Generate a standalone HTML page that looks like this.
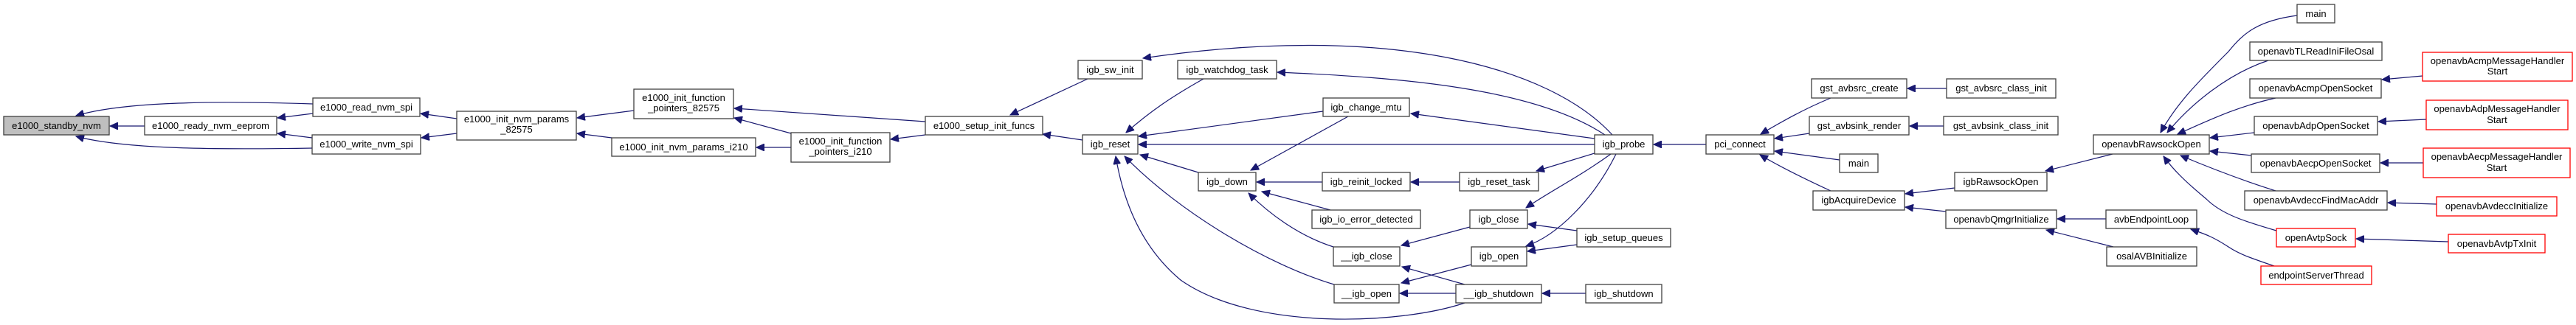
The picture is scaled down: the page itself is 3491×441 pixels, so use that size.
<!DOCTYPE html>
<html><head><meta charset="utf-8"><style>
html,body{margin:0;padding:0;background:#fff;}
svg{display:block;}
text{font-family:"Liberation Sans",sans-serif;font-size:13px;fill:#000;text-anchor:middle;}
.e{fill:none;stroke:#191970;stroke-width:1.2;marker-end:url(#a);}
.n{fill:#fff;stroke:#404040;stroke-width:1.3;}
.r{fill:#fff;stroke:#ff0000;stroke-width:1.3;}
.g{fill:#bfbfbf;stroke:#404040;stroke-width:1.3;}
</style></head><body>
<svg width="3491" height="441" viewBox="0 0 3491 441" xmlns="http://www.w3.org/2000/svg">
<defs><marker id="a" markerWidth="12" markerHeight="10" refX="11" refY="5" orient="auto" markerUnits="userSpaceOnUse"><path d="M0,0 L11,5 L0,10 Z" fill="#191970" stroke="#191970"/></marker></defs>
<g>
<path class="e" d="M424,141 C300,137 170,137 103,157"/>
<path class="e" d="M196,171 L149,171"/>
<path class="e" d="M423,201 C300,203 170,203 103,185"/>
<path class="e" d="M424,154 L376,160"/>
<path class="e" d="M423,187 L376,181"/>
<path class="e" d="M619,161 L570,154"/>
<path class="e" d="M619,181 L571,187"/>
<path class="e" d="M859,150 L782,160"/>
<path class="e" d="M829,187 L782,181"/>
<path class="e" d="M1072,200 L1025,200"/>
<path class="e" d="M1072,181 L995,160"/>
<path class="e" d="M1254,165 L995,147"/>
<path class="e" d="M1254,183 L1207,189"/>
<path class="e" d="M1474,107 L1369,156"/>
<path class="e" d="M1467,190 L1413,182"/>
<path class="e" d="M2185,183 C2100,90 1880,30 1549,79"/>
<path class="e" d="M2175,183 C2080,120 1900,105 1731,98"/>
<path class="e" d="M1631,107 C1590,130 1560,150 1526,180"/>
<path class="e" d="M2161,188 L1912,154"/>
<path class="e" d="M1793,151 L1543,185"/>
<path class="e" d="M2161,196 L1543,196"/>
<path class="e" d="M1624,234 L1545,210"/>
<path class="e" d="M1827,158 L1695,231"/>
<path class="e" d="M1792,247 L1703,247"/>
<path class="e" d="M1803,285 L1710,260"/>
<path class="e" d="M1807,335 C1760,320 1720,290 1692,262"/>
<path class="e" d="M1808,386 C1720,360 1600,290 1524,212"/>
<path class="e" d="M1985,411 C1900,440 1700,450 1600,380 C1540,330 1520,260 1512,212"/>
<path class="e" d="M1978,247 L1912,247"/>
<path class="e" d="M2161,208 L2082,232"/>
<path class="e" d="M1992,308 L1899,333"/>
<path class="e" d="M2183,209 C2140,240 2100,260 2068,282"/>
<path class="e" d="M2137,313 L2071,304"/>
<path class="e" d="M2137,332 L2070,341"/>
<path class="e" d="M2190,209 C2160,270 2110,320 2068,334"/>
<path class="e" d="M1985,386 L1900,362"/>
<path class="e" d="M1994,359 L1899,384"/>
<path class="e" d="M1973,398 L1897,398"/>
<path class="e" d="M2149,398 L2090,398"/>
<path class="e" d="M2312,196 L2241,196"/>
<path class="e" d="M2481,133 C2440,150 2410,168 2386,182"/>
<path class="e" d="M2452,181 L2405,188"/>
<path class="e" d="M2493,217 L2405,205"/>
<path class="e" d="M2481,259 C2440,240 2410,225 2385,210"/>
<path class="e" d="M2638,120 L2585,120"/>
<path class="e" d="M2634,171 L2588,171"/>
<path class="e" d="M2649,255 L2582,263"/>
<path class="e" d="M2637,287 L2582,281"/>
<path class="e" d="M2863,209 L2772,232"/>
<path class="e" d="M2854,297 L2788,297"/>
<path class="e" d="M2864,335 L2773,312"/>
<path class="e" d="M3113,21 C3060,28 3040,45 3020,70 C2980,110 2950,140 2928,180"/>
<path class="e" d="M3074,82 C3020,100 2970,140 2937,180"/>
<path class="e" d="M3084,133 C3030,145 2990,165 2951,182"/>
<path class="e" d="M3055,180 L2995,187"/>
<path class="e" d="M3051,211 L2995,205"/>
<path class="e" d="M3084,259 C3040,245 3000,230 2955,211"/>
<path class="e" d="M3085,313 C3040,300 3010,290 2990,270 C2960,245 2945,230 2932,212"/>
<path class="e" d="M3082,361 C3050,350 3035,345 3020,335 C3000,322 2990,318 2969,311"/>
<path class="e" d="M3283,103 L3228,108"/>
<path class="e" d="M3288,162 L3223,165"/>
<path class="e" d="M3284,221 L3226,221"/>
<path class="e" d="M3302,277 L3236,275"/>
<path class="e" d="M3318,328 L3193,324"/>
</g>
<g>
<rect class="g" x="5" y="158" width="143" height="25"/><text x="76.5" y="175">e1000_standby_nvm</text>
<rect class="n" x="196" y="158" width="179" height="25"/><text x="285.5" y="175">e1000_ready_nvm_eeprom</text>
<rect class="n" x="424" y="133" width="145" height="25"/><text x="496.5" y="150">e1000_read_nvm_spi</text>
<rect class="n" x="423" y="183" width="147" height="26"/><text x="496.5" y="200">e1000_write_nvm_spi</text>
<rect class="n" x="619" y="151" width="162" height="39"/><text x="700" y="166">e1000_init_nvm_params</text><text x="700" y="180">_82575</text>
<rect class="n" x="859" y="121" width="135" height="40"/><text x="926.5" y="137">e1000_init_function</text><text x="926.5" y="151">_pointers_82575</text>
<rect class="n" x="829" y="187" width="195" height="25"/><text x="926.5" y="204">e1000_init_nvm_params_i210</text>
<rect class="n" x="1072" y="180" width="134" height="40"/><text x="1139" y="196">e1000_init_function</text><text x="1139" y="210">_pointers_i210</text>
<rect class="n" x="1254" y="158" width="159" height="25"/><text x="1333.5" y="175">e1000_setup_init_funcs</text>
<rect class="n" x="1461" y="82" width="87" height="25"/><text x="1504.5" y="99">igb_sw_init</text>
<rect class="n" x="1596" y="82" width="134" height="25"/><text x="1663" y="99">igb_watchdog_task</text>
<rect class="n" x="1467" y="183" width="75" height="26"/><text x="1504.5" y="200">igb_reset</text>
<rect class="n" x="1793" y="133" width="117" height="25"/><text x="1851.5" y="150">igb_change_mtu</text>
<rect class="n" x="1624" y="234" width="78" height="25"/><text x="1663" y="251">igb_down</text>
<rect class="n" x="1792" y="234" width="119" height="25"/><text x="1851.5" y="251">igb_reinit_locked</text>
<rect class="n" x="1778" y="285" width="147" height="25"/><text x="1851.5" y="302">igb_io_error_detected</text>
<rect class="n" x="1807" y="335" width="90" height="26"/><text x="1852" y="352">__igb_close</text>
<rect class="n" x="1808" y="386" width="88" height="25"/><text x="1852" y="403">__igb_open</text>
<rect class="n" x="2161" y="183" width="79" height="26"/><text x="2200.5" y="200">igb_probe</text>
<rect class="n" x="1978" y="234" width="107" height="25"/><text x="2031.5" y="251">igb_reset_task</text>
<rect class="n" x="1992" y="285" width="78" height="25"/><text x="2031" y="302">igb_close</text>
<rect class="n" x="1994" y="335" width="75" height="26"/><text x="2031.5" y="352">igb_open</text>
<rect class="n" x="2137" y="310" width="127" height="25"/><text x="2200.5" y="327">igb_setup_queues</text>
<rect class="n" x="1973" y="386" width="116" height="25"/><text x="2031" y="403">__igb_shutdown</text>
<rect class="n" x="2149" y="386" width="103" height="25"/><text x="2200.5" y="403">igb_shutdown</text>
<rect class="n" x="2312" y="183" width="92" height="26"/><text x="2358" y="200">pci_connect</text>
<rect class="n" x="2455" y="107" width="129" height="26"/><text x="2519.5" y="124">gst_avbsrc_create</text>
<rect class="n" x="2452" y="158" width="135" height="25"/><text x="2519.5" y="175">gst_avbsink_render</text>
<rect class="n" x="2493" y="209" width="52" height="25"/><text x="2519" y="226">main</text>
<rect class="n" x="2457" y="259" width="124" height="26"/><text x="2519" y="276">igbAcquireDevice</text>
<rect class="n" x="2638" y="107" width="148" height="26"/><text x="2712" y="124">gst_avbsrc_class_init</text>
<rect class="n" x="2634" y="158" width="155" height="25"/><text x="2711.5" y="175">gst_avbsink_class_init</text>
<rect class="n" x="2649" y="234" width="125" height="25"/><text x="2711.5" y="251">igbRawsockOpen</text>
<rect class="n" x="2637" y="285" width="150" height="25"/><text x="2712" y="302">openavbQmgrInitialize</text>
<rect class="n" x="2837" y="183" width="157" height="26"/><text x="2915.5" y="200">openavbRawsockOpen</text>
<rect class="n" x="2854" y="285" width="123" height="25"/><text x="2915.5" y="302">avbEndpointLoop</text>
<rect class="n" x="2855" y="335" width="122" height="26"/><text x="2916" y="352">osalAVBInitialize</text>
<rect class="n" x="3113" y="6" width="51" height="25"/><text x="3138.5" y="23">main</text>
<rect class="n" x="3049" y="57" width="179" height="25"/><text x="3138.5" y="74">openavbTLReadIniFileOsal</text>
<rect class="n" x="3049" y="107" width="178" height="26"/><text x="3138" y="124">openavbAcmpOpenSocket</text>
<rect class="n" x="3055" y="158" width="167" height="25"/><text x="3138.5" y="175">openavbAdpOpenSocket</text>
<rect class="n" x="3051" y="209" width="174" height="25"/><text x="3138" y="226">openavbAecpOpenSocket</text>
<rect class="n" x="3042" y="259" width="193" height="26"/><text x="3138.5" y="276">openavbAvdeccFindMacAddr</text>
<rect class="r" x="3085" y="310" width="107" height="25"/><text x="3138.5" y="327">openAvtpSock</text>
<rect class="r" x="3064" y="361" width="150" height="25"/><text x="3139" y="378">endpointServerThread</text>
<rect class="r" x="3283" y="71" width="203" height="39"/><text x="3384.5" y="87">openavbAcmpMessageHandler</text><text x="3384.5" y="101">Start</text>
<rect class="r" x="3288" y="136" width="192" height="40"/><text x="3384" y="152">openavbAdpMessageHandler</text><text x="3384" y="167">Start</text>
<rect class="r" x="3284" y="201" width="199" height="40"/><text x="3383.5" y="217">openavbAecpMessageHandler</text><text x="3383.5" y="232">Start</text>
<rect class="r" x="3302" y="267" width="163" height="26"/><text x="3383.5" y="284">openavbAvdeccInitialize</text>
<rect class="r" x="3318" y="318" width="131" height="25"/><text x="3383.5" y="335">openavbAvtpTxInit</text>
</g>
</svg>
</body></html>
